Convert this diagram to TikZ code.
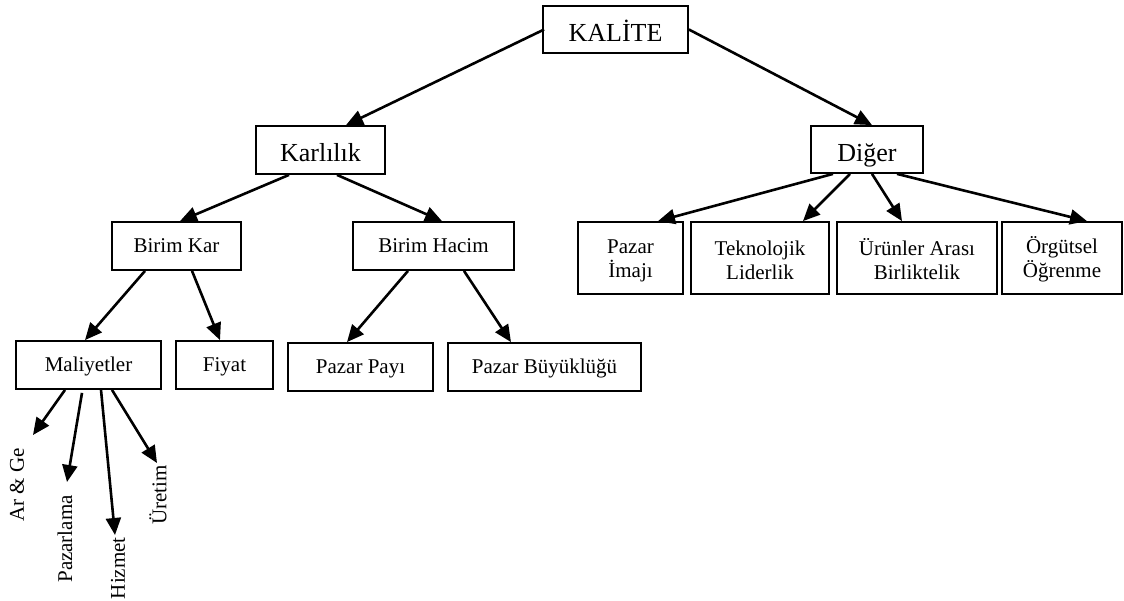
\documentclass[tikz,border=0pt]{standalone}
\usepackage{fontspec}
\setmainfont{Liberation Serif}
\usetikzlibrary{arrows.meta}
\begin{document}
\begin{tikzpicture}[x=1pt,y=-1pt,
  box/.style={draw, line width=1.8pt, inner sep=0pt,
    font=\fontsize{21}{24}\selectfont},
  sbox/.style={box, text height=15pt, text depth=1.6pt},
  bigbox/.style={box, font=\fontsize{26}{30}\selectfont,
    text height=25pt, text depth=1pt},
  tbox/.style={box, align=center},
  arr/.style={line width=2.6pt, -{Triangle[length=17pt,width=15pt]}},
  vlabel/.style={rotate=90, anchor=east, inner sep=0pt,
    font=\fontsize{21}{24}\selectfont}]
\useasboundingbox (0,0) rectangle (1124,601);

% top level
\node[bigbox, minimum width=145, minimum height=47] (kal) at (615.5,29.5) {KALİTE};
\node[bigbox, minimum width=129, minimum height=48] (karl) at (320.5,150) {Karlılık};
\node[bigbox, minimum width=112, minimum height=47] (dig) at (867,149.5) {Diğer};

% second level
\node[sbox, minimum width=129, minimum height=48] (bk) at (176.5,246) {Birim Kar};
\node[sbox, minimum width=161, minimum height=48] (bh) at (433.5,246) {Birim Hacim};
\node[tbox, minimum width=105, minimum height=72] (pi) at (630.5,258) {\rule{0pt}{19pt}Pazar\\İmajı};
\node[tbox, minimum width=138, minimum height=72] (tl) at (760,258) {\rule{0pt}{19pt}Teknolojik\\Liderlik};
\node[tbox, minimum width=160, minimum height=72] (ua) at (917,258) {\rule{0pt}{19pt}Ürünler Arası\\Birliktelik};
\node[tbox, minimum width=120, minimum height=72] (oo) at (1062,258) {\rule{0pt}{19pt}Örgütsel\\Öğrenme};

% third level
\node[sbox, minimum width=145, minimum height=48] (mal) at (88.5,365) {Maliyetler};
\node[sbox, minimum width=97, minimum height=48] (fiy) at (224.5,365) {Fiyat};
\node[sbox, minimum width=145, minimum height=48] (pp) at (360.5,367) {Pazar Payı};
\node[sbox, minimum width=193, minimum height=48] (pb) at (544.5,367) {Pazar Büyüklüğü};

% cost items
\coordinate (c1) at (33,435);
\coordinate (c2) at (67,482);
\coordinate (c3) at (115,535);
\coordinate (c4) at (157,463);
\node[vlabel] (l1) at (17,448) {Ar \& Ge};
\node[vlabel] (l2) at (65,495) {Pazarlama};
\node[vlabel] (l3) at (118,537) {Hizmet};
\node[vlabel] (l4) at (158,465) {Üretim};

% connectors
\draw[arr] ([xshift=2]kal.west) -- ([xshift=25.5]karl.north);
\draw[arr] (kal.east) -- ([xshift=5]dig.north);

\draw[arr] ([xshift=-31.5]karl.south) -- ([xshift=3.5]bk.north);
\draw[arr] ([xshift=16.5]karl.south) -- ([xshift=8.5]bh.north);

\draw[arr] ([xshift=-34]dig.south) -- ([xshift=27.5]pi.north);
\draw[arr] ([xshift=-17]dig.south) -- ([xshift=43]tl.north);
\draw[arr] ([xshift=5]dig.south) -- ([xshift=-15]ua.north);
\draw[arr] ([xshift=30]dig.south) -- ([xshift=25]oo.north);

\draw[arr] ([xshift=-31.5]bk.south) -- ([xshift=-3.5]mal.north);
\draw[arr] ([xshift=15.5]bk.south) -- ([xshift=-4.5]fiy.north);
\draw[arr] ([xshift=-25.5]bh.south) -- ([xshift=-13.5]pp.north);
\draw[arr] ([xshift=30.5]bh.south) -- ([xshift=-33.5]pb.north);

\draw[arr] ([xshift=-23.5]mal.south) -- (c1);
\draw[arr] ([xshift=-6.5,yshift=-3]mal.south) -- (c2);
\draw[arr] ([xshift=12.5]mal.south) -- (c3);
\draw[arr] ([xshift=23.5]mal.south) -- (c4);
\end{tikzpicture}
\end{document}
